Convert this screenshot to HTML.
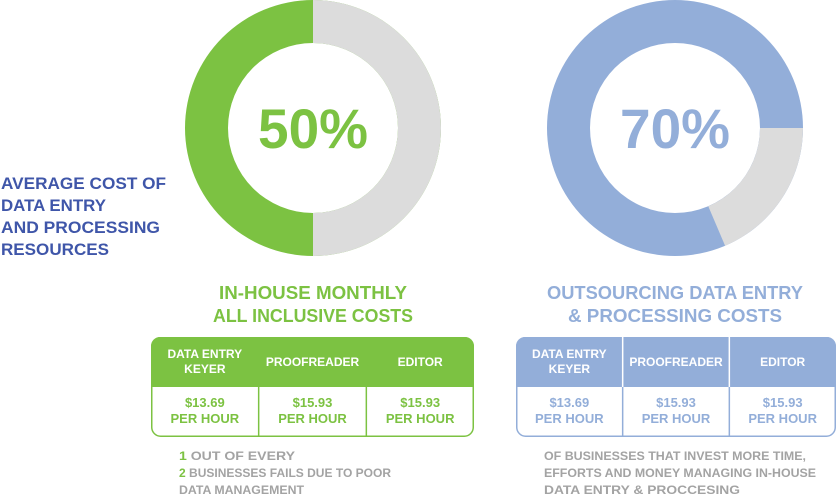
<!DOCTYPE html>
<html><head><meta charset="utf-8"><style>
html,body{margin:0;padding:0;background:#fff;}
svg{display:block;font-family:"Liberation Sans",sans-serif;font-weight:bold;}
</style></head><body>
<svg id="chart" width="840" height="499" viewBox="0 0 840 499">
  <g fill="#3f56a9" font-size="17">
    <text x="1" y="189" textLength="165" lengthAdjust="spacingAndGlyphs">AVERAGE COST OF</text>
    <text x="1" y="211" textLength="105" lengthAdjust="spacingAndGlyphs">DATA ENTRY</text>
    <text x="1" y="233" textLength="159" lengthAdjust="spacingAndGlyphs">AND PROCESSING</text>
    <text x="1" y="255" textLength="108" lengthAdjust="spacingAndGlyphs">RESOURCES</text>
  </g>
  <g id="donuts"></g>

  <g fill="#7cc242" font-size="18" text-anchor="middle">
    <text x="313" y="299" textLength="188" lengthAdjust="spacingAndGlyphs">IN-HOUSE MONTHLY</text>
    <text x="313" y="322" textLength="200" lengthAdjust="spacingAndGlyphs">ALL INCLUSIVE COSTS</text>
  </g>
  <g fill="#93aed9" font-size="18" text-anchor="middle">
    <text x="675" y="299" textLength="256" lengthAdjust="spacingAndGlyphs">OUTSOURCING DATA ENTRY</text>
    <text x="675" y="322" textLength="214" lengthAdjust="spacingAndGlyphs">&amp; PROCESSING COSTS</text>
  </g>
  <g id="tables"></g>

  <g font-size="12" fill="#a3a3a3">
    <text x="179" y="460" textLength="116" lengthAdjust="spacingAndGlyphs"><tspan fill="#7cc242">1</tspan> OUT OF EVERY</text>
    <text x="179" y="477" textLength="212" lengthAdjust="spacingAndGlyphs"><tspan fill="#7cc242">2</tspan> BUSINESSES FAILS DUE TO POOR</text>
    <text x="179" y="494" textLength="125" lengthAdjust="spacingAndGlyphs">DATA MANAGEMENT</text>
  </g>
  <g font-size="12" fill="#a3a3a3">
    <text x="544" y="460" textLength="262" lengthAdjust="spacingAndGlyphs">OF BUSINESSES THAT INVEST MORE TIME,</text>
    <text x="544" y="477" textLength="272" lengthAdjust="spacingAndGlyphs">EFFORTS AND MONEY MANAGING IN-HOUSE</text>
    <text x="544" y="494" textLength="196" lengthAdjust="spacingAndGlyphs">DATA ENTRY &amp; PROCCESING</text>
  </g>
</svg>
<script>
const NS="http://www.w3.org/2000/svg";
const donutLabels=["50%","70%"];
const donutGreyStart=[0,25];
const donutGreyEnd=[50,43.6];
const donutColors=["#7cc242","#93aed9"];
const donutCx=[313,675];
const roles=["DATA ENTRY|KEYER","PROOFREADER","EDITOR"];
const rates=["$13.69","$15.93","$15.93"];

const R=128,r=85,cy=128;
function pt(cx,pct,rad){const a=pct/100*2*Math.PI;return [cx+rad*Math.sin(a),cy-rad*Math.cos(a)];}
function arc(cx,s,e){
  const large=(e-s)>50?1:0;
  const [x1,y1]=pt(cx,s,R),[x2,y2]=pt(cx,e,R),[x3,y3]=pt(cx,e,r),[x4,y4]=pt(cx,s,r);
  return `M${x1},${y1}A${R},${R} 0 ${large} 1 ${x2},${y2}L${x3},${y3}A${r},${r} 0 ${large} 0 ${x4},${y4}Z`;
}
const dg=document.getElementById('donuts');
donutLabels.forEach((lab,i)=>{
  const cx=donutCx[i];
  const ring=document.createElementNS(NS,'path');
  ring.setAttribute('d',`M${cx-R},${cy}a${R},${R} 0 1 0 ${2*R},0a${R},${R} 0 1 0 ${-2*R},0ZM${cx-r},${cy}a${r},${r} 0 1 1 ${2*r},0a${r},${r} 0 1 1 ${-2*r},0Z`);
  ring.setAttribute('fill',donutColors[i]);ring.setAttribute('fill-rule','evenodd');
  
  
  dg.appendChild(ring);
  const g=document.createElementNS(NS,'path');
  g.setAttribute('d',arc(cx,donutGreyStart[i],donutGreyEnd[i]));
  g.setAttribute('fill','#dcdcdc');
  
  
  dg.appendChild(g);
  const t=document.createElementNS(NS,'text');
  t.setAttribute('x',cx);t.setAttribute('y',cy+20);t.setAttribute('text-anchor','middle');
  t.setAttribute('font-size','56');t.setAttribute('fill',donutColors[i]);
  t.setAttribute('textLength','110');t.setAttribute('lengthAdjust','spacingAndGlyphs');
  t.textContent=lab;
  
  
  dg.appendChild(t);
});

const tg=document.getElementById('tables');
const tx=[151,516],tw=[323,320];
donutColors.forEach((col,i)=>{
  const x0=tx[i],w=tw[i],y0=337,h=100,hh=50;
  const box=document.createElementNS(NS,'rect');
  box.setAttribute('x',x0+0.75);box.setAttribute('y',y0+0.75);box.setAttribute('width',w-1.5);box.setAttribute('height',h-1.5);
  box.setAttribute('rx',9);box.setAttribute('fill','#fff');box.setAttribute('stroke',col);box.setAttribute('stroke-width',1.5);
  
  
  tg.appendChild(box);
  const hd=document.createElementNS(NS,'path');
  hd.setAttribute('d',`M${x0},${y0+hh}V${y0+9}a9,9 0 0 1 9,-9H${x0+w-9}a9,9 0 0 1 9,9V${y0+hh}H${x0}Z`);
  hd.setAttribute('fill',col);
  
  
  tg.appendChild(hd);
  const cw=w/3;
  roles.forEach((role,j)=>{
    const cx=x0+cw*j+cw/2;
    if(j>0){
      if(i){const l=document.createElementNS(NS,'line');
        l.setAttribute('x1',x0+cw*j);l.setAttribute('x2',x0+cw*j);l.setAttribute('y1',y0);l.setAttribute('y2',y0+hh);
        l.setAttribute('stroke','#ffffff');l.setAttribute('stroke-width',1.5);
        
        
        tg.appendChild(l);}
      const l2=document.createElementNS(NS,'line');
      l2.setAttribute('x1',x0+cw*j);l2.setAttribute('x2',x0+cw*j);l2.setAttribute('y1',y0+hh);l2.setAttribute('y2',y0+h);
      l2.setAttribute('stroke',col);l2.setAttribute('stroke-width',1.5);
      
      
      tg.appendChild(l2);
    }
    const parts=role.split('|');
    parts.forEach((p,k)=>{
      const t=document.createElementNS(NS,'text');
      t.setAttribute('x',cx);t.setAttribute('y',parts.length>1?y0+21+k*15:y0+29);
      t.setAttribute('text-anchor','middle');t.setAttribute('font-size','12');t.setAttribute('fill','#fff');
      t.textContent=p;
      
      
      tg.appendChild(t);
    });
    [rates[j],'PER HOUR'].forEach((p,k)=>{
      const t=document.createElementNS(NS,'text');
      t.setAttribute('x',cx);t.setAttribute('y',y0+hh+20+k*16);
      t.setAttribute('text-anchor','middle');t.setAttribute('font-size','13');t.setAttribute('fill',col);
      t.textContent=p;
      
      
      tg.appendChild(t);
    });
  });
});
</script>
</body></html>
